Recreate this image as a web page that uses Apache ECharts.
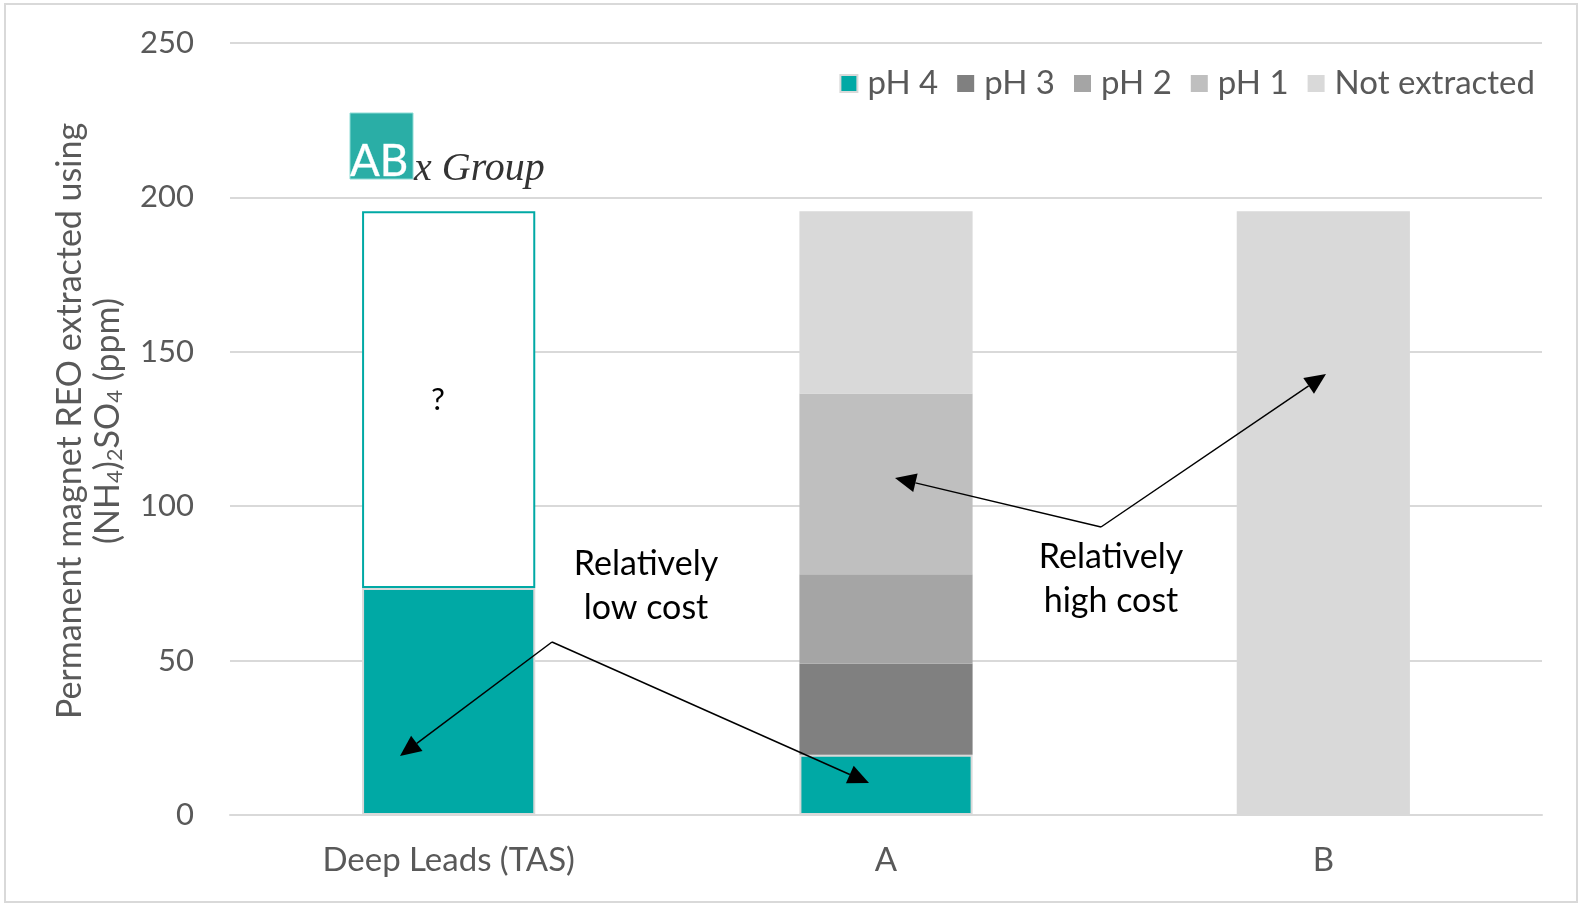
<!DOCTYPE html>
<html>
<head>
<meta charset="utf-8">
<script src="https://cdn.jsdelivr.net/npm/echarts@6/dist/echarts.min.js"></script>
<style>
html,body{margin:0;padding:0;background:#fff;}
#main{width:1580px;height:903px;}
</style>
</head>
<body>
<div id="main"></div>
<script>
// ---- data ----
var categories = ['Deep Leads (TAS)', 'A', 'B'];
var seriesNames = ['pH 4', 'pH 3', 'pH 2', 'pH 1', 'Not extracted'];
var ph4 = [73.5, 19.5, '-'];
var unknown = [122, '-', '-'];
var ph3 = ['-', 29.5, '-'];
var ph2 = ['-', 29, '-'];
var ph1 = ['-', 58.5, '-'];
var notExtracted = ['-', 59, 195.5];
var yTicks = [0, 50, 100, 150, 200, 250];

var FONT = 'Lato, "Open Sans", sans-serif';
var chart = echarts.init(document.getElementById('main'));

function arrow(x1, y1, x2, y2) {
  var dx = x2 - x1, dy = y2 - y1, L = Math.sqrt(dx*dx + dy*dy);
  var ux = dx / L, uy = dy / L, hl = 21, hw = 9.5;
  var bx = x2 - ux*hl, by = y2 - uy*hl;
  return [
    {type:'line', shape:{x1:x1, y1:y1, x2:bx, y2:by}, style:{stroke:'#000', lineWidth:1.5}, z:100},
    {type:'polygon', shape:{points:[[x2,y2],[bx - uy*hw, by + ux*hw],[bx + uy*hw, by - ux*hw]]}, style:{fill:'#000'}, z:100}
  ];
}

var graphics = [
  {type:'rect', shape:{x:5, y:4, width:1572, height:898}, style:{fill:'none', stroke:'#d9d9d9', lineWidth:2}, z:-1},
  // logo
  {type:'rect', shape:{x:350, y:113, width:63, height:66}, style:{fill:'#2aaea6', stroke:'#8fdcd6', lineWidth:1}, z:50},
  {type:'text', x:350, y:184, style:{text:'AB', fill:'#ffffff', font:'44px ' + FONT, textVerticalAlign:'bottom', stroke:'#bfeeea', lineWidth:0.5}, z:51},
  {type:'text', x:414, y:189, style:{text:'x Group', fill:'#333333', font:'italic 40px "Liberation Serif", "DejaVu Serif", serif', textVerticalAlign:'bottom'}, z:51},
  // annotations
  {type:'text', x:438, y:400, style:{text:'?', fill:'#000', font:'31px ' + FONT, textAlign:'center', textVerticalAlign:'middle'}, z:100},
  {type:'text', x:646, y:586, style:{text:'Relatively\nlow cost', fill:'#000', font:'34px ' + FONT, textAlign:'center', textVerticalAlign:'middle', lineHeight:44}, z:100},
  {type:'text', x:1111, y:579, style:{text:'Relatively\nhigh cost', fill:'#000', font:'34px ' + FONT, textAlign:'center', textVerticalAlign:'middle', lineHeight:44}, z:100}
];
graphics = graphics.concat(arrow(552, 642, 400, 756), arrow(552, 642, 869, 783),
                           arrow(1101, 527, 895, 478), arrow(1101, 527, 1326, 374));

var barBase = {type:'bar', stack:'total', barWidth:'39.6%'};
function mk(name, data, color, extra) {
  var s = Object.assign({}, barBase, {name:name, data:data, itemStyle:{color:color}});
  return Object.assign(s, extra || {});
}

var option = {
  animation:false,
  backgroundColor:'#ffffff',
  textStyle:{fontFamily:FONT},
  grid:{left:230, right:38, top:43, bottom:88, containLabel:false},
  legend:{
    data:seriesNames, right:40, top:62, itemWidth:17, itemHeight:17, itemGap:19,
    icon:'rect',
    textStyle:{color:'#595959', fontSize:33, fontFamily:FONT, padding:[0,0,0,5]}
  },
  xAxis:{
    type:'category', data:categories,
    axisLine:{lineStyle:{color:'#d9d9d9', width:2}},
    axisTick:{show:false},
    axisLabel:{color:'#595959', fontSize:33, margin:29, fontFamily:FONT}
  },
  yAxis:{
    type:'value', min:0, max:250, interval:50,
    axisLine:{show:false}, axisTick:{show:false},
    splitLine:{lineStyle:{color:'#d9d9d9', width:2}},
    axisLabel:{color:'#595959', fontSize:31, margin:36, fontFamily:FONT},
    name:'Permanent magnet REO extracted using\n(NH{s|4}){s|2}SO{s|4} (ppm)',
    nameLocation:'middle', nameRotate:90, nameGap:103,
    nameTextStyle:{color:'#595959', fontSize:34, lineHeight:38, fontFamily:FONT, padding:[0,0,0,16],
      rich:{s:{fontSize:22, lineHeight:14, padding:[14,0,0,0], color:'#595959', fontFamily:FONT}}}
  },
  graphic:graphics,
  series:[
    mk('pH 4', ph4, '#00a9a5', {itemStyle:{color:'#00a9a5', borderColor:'#d9d9d9', borderWidth:2}}),
    mk('?', unknown, '#ffffff', {itemStyle:{color:'#ffffff', borderColor:'#00a9a5', borderWidth:2}}),
    mk('pH 3', ph3, '#808080'),
    mk('pH 2', ph2, '#a5a5a5'),
    mk('pH 1', ph1, '#bfbfbf'),
    mk('Not extracted', notExtracted, '#d9d9d9')
  ]
};
chart.setOption(option);
</script>
</body>
</html>
